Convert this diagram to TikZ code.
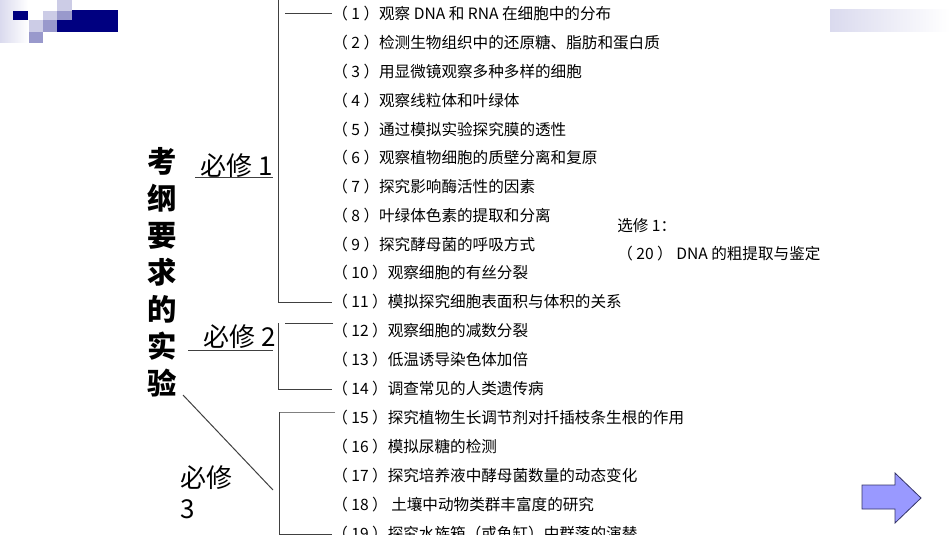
\documentclass[tikz,border=0pt]{standalone}
\usepackage{fontspec}
\setmainfont{Noto Sans CJK SC}
\definecolor{navy}{HTML}{000080}
\definecolor{midlav}{HTML}{9999CC}
\definecolor{ltlav}{HTML}{CCCCE6}
\definecolor{paler}{HTML}{DADAEE}
\definecolor{arrowfill}{HTML}{9999FF}
\definecolor{arrowedge}{HTML}{333366}
\definecolor{linegray}{HTML}{404040}
\begin{document}
\begin{tikzpicture}[x=0.75pt,y=-0.75pt,
		every node/.style={inner sep=0pt},
		item/.style={anchor=west,font=\fontsize{11.7}{14}\selectfont},
		group/.style={font=\fontsize{19.5}{23}\selectfont},
		bracket/.style={draw=linegray,line width=0.75pt}]
		\useasboundingbox (0,0) rectangle (950,535);
		\clip (0,0) rectangle (950,535);
		% corner decoration
		\shade [left color=paler,right color=white] (0,0) rectangle (28,43);
		\fill [navy] (13,11) rectangle (28,20);
		\fill [ltlav] (43,11) rectangle (57,20);
		\fill [ltlav] (57,0) rectangle (72,11);
		\fill [midlav] (57,11) rectangle (72,20);
		\fill [navy] (72,10) rectangle (118,32);
		\fill [navy] (57,20) rectangle (72,32);
		\fill [ltlav] (29,20) rectangle (43,32);
		\fill [midlav] (43,20) rectangle (57,32);
		\fill [midlav] (29,32) rectangle (43,43);
		\shade [left color=paler,right color=white] (830,10) rectangle (950,32);
		% title
		\node (title) at (162,272) [align=center,font=\fontsize{22}{27.8}\selectfont\bfseries]
			{考\\纲\\要\\求\\的\\实\\验};
		\node (b1) at (237,166) [group] {必修 1};
		\node (b2) at (240,337) [group] {必修 2};
		\node (b3) at (180,492) [group,anchor=west,align=left] {必修\\3};
		% items
		\node (i1) at (332,14) [item] {（ 1 ）观察 DNA 和 RNA 在细胞中的分布};
		\node (i2) at (332,43) [item] {（ 2 ）检测生物组织中的还原糖、脂肪和蛋白质};
		\node (i3) at (332,72) [item] {（ 3 ）用显微镜观察多种多样的细胞};
		\node (i4) at (332,101) [item] {（ 4 ）观察线粒体和叶绿体};
		\node (i5) at (332,130) [item] {（ 5 ）通过模拟实验探究膜的透性};
		\node (i6) at (332,158) [item] {（ 6 ）观察植物细胞的质壁分离和复原};
		\node (i7) at (332,187) [item] {（ 7 ）探究影响酶活性的因素};
		\node (i8) at (332,216) [item] {（ 8 ）叶绿体色素的提取和分离};
		\node (i9) at (332,245) [item] {（ 9 ）探究酵母菌的呼吸方式};
		\node (i10) at (332,273) [item] {（ 10 ）观察细胞的有丝分裂};
		\node (i11) at (332,302) [item] {（ 11 ）模拟探究细胞表面积与体积的关系};
		\node (i12) at (332,331) [item] {（ 12 ）观察细胞的减数分裂};
		\node (i13) at (332,360) [item] {（ 13 ）低温诱导染色体加倍};
		\node (i14) at (332,389) [item] {（ 14 ）调查常见的人类遗传病};
		\node (i15) at (332,418) [item] {（ 15 ）探究植物生长调节剂对扦插枝条生根的作用};
		\node (i16) at (332,447) [item] {（ 16 ）模拟尿糖的检测};
		\node (i17) at (332,476) [item] {（ 17 ）探究培养液中酵母菌数量的动态变化};
		\node (i18) at (332,505) [item] {（ 18 ）\ 土壤中动物类群丰富度的研究};
		\node (i19) at (332,534) [item] {（ 19 ）探究水族箱（或鱼缸）中群落的演替};
		\node (x1) at (617,226) [item] {选修 1：};
		\node (i20) at (617,254) [item] {（ 20 ） DNA 的粗提取与鉴定};
		% brackets
		\coordinate (top1) at (278,-5);
		\coordinate (s1) at (285,14);
		\draw [bracket] (s1) -- (i1.west);
		\draw [bracket] (top1) |- (i11.west);
		\draw [bracket] (195,177) -- (273,177);
		\draw [bracket] (333,323) -- (285,323);
		\draw [bracket] (278,323) |- (i14.west);
		\draw [bracket] (188,350) -- (273,350);
		\draw [bracket,draw=gray] (335,412) -- (279,412);
		\draw [bracket] (279,412) |- (i19.west);
		\draw [bracket] (183,395) -- (273,490);
		% next arrow
		\draw [fill=arrowfill,draw=arrowedge,line width=0.6pt]
			(862,485) -- (895,485) -- (895,473) -- (921,498) -- (895,523) -- (895,509) -- (862,509) -- cycle;
	\end{tikzpicture}
\end{document}
